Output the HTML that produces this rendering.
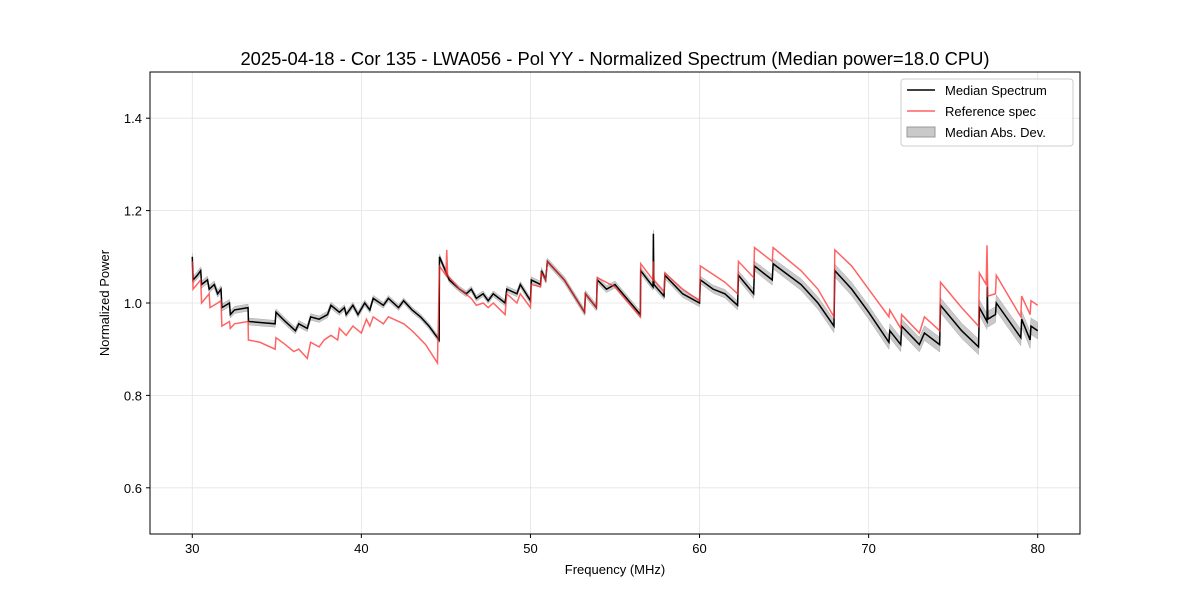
<!DOCTYPE html>
<html><head><meta charset="utf-8"><style>
body{margin:0;background:#fff}
svg{display:block;font-family:"Liberation Sans","DejaVu Sans",sans-serif}
</style></head><body>
<svg id="chart" width="1200" height="600" viewBox="0 0 1200 600">
<rect width="1200" height="600" fill="#fff"/>
<text x="615" y="65" text-anchor="middle" font-size="18.4">2025-04-18 - Cor 135 - LWA056 - Pol YY - Normalized Spectrum (Median power=18.0 CPU)</text>
<g id="grid"></g>
<g id="plot"></g>
<rect x="150" y="72" width="930" height="462" fill="none" stroke="#000" stroke-width="1"/>
<g id="axes"></g>
<text x="615" y="574" text-anchor="middle" font-size="13">Frequency (MHz)</text>
<text x="109" y="303" text-anchor="middle" font-size="13" transform="rotate(-90 109 303)">Normalized Power</text>
<g>
<rect x="901" y="79" width="172" height="67" fill="#fff" fill-opacity="0.8" stroke="#ccc" rx="3"/>
<g><line x1="907" y1="90" x2="935" y2="90" stroke="#000" stroke-width="1.5"/><text x="945" y="95" font-size="13">Median Spectrum</text></g>
<g><line x1="907" y1="111" x2="935" y2="111" stroke="#ff6060" stroke-width="1.5"/><text x="945" y="116" font-size="13">Reference spec</text></g>
<g><rect x="907" y="127" width="28" height="10" fill="#bbb" fill-opacity="0.8" stroke="#999"/><text x="945" y="137" font-size="13">Median Abs. Dev.</text></g>
</g>
</svg>
<script>
const xTicks=[30,40,50,60,70,80];
const yTicks=[0.6,0.8,1.0,1.2,1.4];
const yTickLabels=["0.6","0.8","1.0","1.2","1.4"];
const medFreq=[30,30.05,30.3,30.5,30.55,30.9,31,31.3,31.5,31.7,31.75,32.2,32.25,32.5,33.3,33.32,34.9,34.95,35.5,36.1,36.3,36.8,37.0,37.5,38.0,38.2,38.7,39.0,39.1,39.5,39.8,40.2,40.5,40.7,41.3,41.6,42.2,42.5,43.0,43.5,44.0,44.6,44.62,45.2,45.8,46.2,46.5,46.8,47.2,47.5,47.8,48.5,48.6,49.2,49.4,50.0,50.05,50.6,50.65,50.9,51.0,52.0,53.2,53.25,53.9,53.95,54.5,55.0,56.5,56.52,57.25,57.27,57.3,57.9,57.95,59.0,60.0,60.05,60.8,61.5,62.25,62.3,63.2,63.25,64.3,64.35,66.0,67.0,67.95,68.0,69.0,70.0,71.2,71.25,71.9,71.95,73.0,73.3,74.2,74.25,75.5,76.5,76.55,77.0,77.02,77.05,77.5,77.55,79.0,79.05,79.55,79.6,80.0];
const medVal=[1.10,1.05,1.06,1.07,1.04,1.05,1.03,1.04,1.02,1.03,0.99,1.0,0.975,0.985,0.99,0.96,0.955,0.98,0.96,0.94,0.955,0.945,0.97,0.965,0.975,0.995,0.98,0.99,0.975,0.995,0.975,1.0,0.985,1.01,0.995,1.01,0.99,1.005,0.985,0.97,0.95,0.92,1.10,1.05,1.03,1.02,1.03,1.01,1.02,1.005,1.02,1.0,1.03,1.02,1.04,1.005,1.05,1.04,1.07,1.05,1.09,1.05,0.98,1.02,0.99,1.05,1.03,1.04,0.975,1.07,1.035,1.15,1.04,1.015,1.06,1.02,1.0,1.05,1.03,1.02,0.995,1.06,1.02,1.08,1.05,1.085,1.04,1.0,0.95,1.07,1.03,0.98,0.915,0.94,0.91,0.95,0.91,0.935,0.91,0.995,0.94,0.905,0.99,0.96,1.035,0.965,0.975,1.0,0.925,0.965,0.92,0.95,0.94];
const refFreq=[30,30.05,30.5,30.55,31,31.05,31.5,31.7,31.75,32.2,32.25,32.5,33.3,33.32,34.0,34.9,34.95,35.5,36.0,36.3,36.8,37.0,37.5,37.8,38.2,38.6,38.7,39.1,39.5,40.0,40.3,40.5,40.7,41.3,41.6,42.5,43.0,43.8,44.5,44.62,45.0,45.05,45.1,45.8,46.5,46.8,47.2,47.5,47.8,48.5,48.6,49.2,49.4,50.0,50.05,50.6,50.65,50.9,51.0,52.0,53.2,53.25,53.9,53.95,55.0,56.5,56.52,57.25,57.27,57.3,57.9,57.95,59.0,60.0,60.05,61.5,62.25,62.3,63.2,63.25,64.3,64.35,66.0,67.0,67.95,68.0,69.0,70.0,71.2,71.25,71.9,71.95,73.0,73.3,74.2,74.25,75.5,76.5,76.55,76.95,77.0,77.05,77.5,77.55,79.0,79.05,79.55,79.6,80.0];
const refVal=[1.09,1.03,1.05,1.0,1.02,0.99,1.0,1.005,0.95,0.96,0.945,0.955,0.96,0.92,0.915,0.9,0.925,0.91,0.895,0.9,0.88,0.915,0.905,0.92,0.93,0.92,0.945,0.93,0.95,0.935,0.965,0.95,0.97,0.955,0.97,0.955,0.94,0.91,0.87,1.08,1.06,1.115,1.06,1.03,1.01,0.995,1.0,0.99,1.0,0.975,1.02,1.0,1.02,0.99,1.04,1.035,1.065,1.05,1.09,1.05,0.98,1.02,0.99,1.055,1.035,0.97,1.085,1.05,1.09,1.05,1.025,1.065,1.03,1.005,1.08,1.045,1.02,1.09,1.055,1.12,1.09,1.12,1.07,1.03,0.97,1.115,1.08,1.03,0.97,0.985,0.945,0.975,0.935,0.97,0.94,1.045,0.99,0.95,1.065,1.04,1.125,1.015,1.02,1.06,0.97,1.015,0.975,1.005,0.995];
const madFreq=[30,44,45,60,68,80];
const madVal=[0.008,0.006,0.006,0.008,0.014,0.018];

const NS="http://www.w3.org/2000/svg";
const X0=150,X1=1080,Y0=534,Y1=72,xmin=27.5,xmax=82.5,ymin=0.5,ymax=1.5;
const xs=f=>X0+(f-xmin)/(xmax-xmin)*(X1-X0);
const ys=v=>Y0-(v-ymin)/(ymax-ymin)*(Y0-Y1);
function mk(tag,attrs,parent){const e=document.createElementNS(NS,tag);for(const k in attrs)e.setAttribute(k,attrs[k]);parent.appendChild(e);return e;}
const grid=document.getElementById('grid'),plot=document.getElementById('plot'),axes=document.getElementById('axes');
xTicks.forEach(t=>{
 const gl=mk('line',{x1:xs(t),x2:xs(t),y1:Y1,y2:Y0,stroke:'#e3e3e3','stroke-width':0.8},grid);
 
 
 mk('line',{x1:xs(t),x2:xs(t),y1:Y0,y2:Y0+4,stroke:'#000'},axes);
 const tx=mk('text',{x:xs(t),y:Y0+19,'text-anchor':'middle','font-size':13},axes);
 tx.textContent=String(t);
 
 
});
yTicks.forEach((t,i)=>{
 const gl=mk('line',{x1:X0,x2:X1,y1:ys(t),y2:ys(t),stroke:'#e3e3e3','stroke-width':0.8},grid);
 
 
 mk('line',{x1:X0-4,x2:X0,y1:ys(t),y2:ys(t),stroke:'#000'},axes);
 const tx=mk('text',{x:X0-8,y:ys(t)+5,'text-anchor':'end','font-size':13},axes);
 tx.textContent=yTickLabels[i];
 
 
});
function madAt(f){for(let i=1;i<madFreq.length;i++){if(f<=madFreq[i]){const r=(f-madFreq[i-1])/(madFreq[i]-madFreq[i-1]);return madVal[i-1]+r*(madVal[i]-madVal[i-1]);}}return madVal[madVal.length-1];}
let up=[],dn=[];
medFreq.forEach((f,i)=>{const m=madAt(f);up.push(xs(f)+','+ys(medVal[i]+m));dn.unshift(xs(f)+','+ys(medVal[i]-m));});
const band=mk('polygon',{points:up.concat(dn).join(' '),fill:'#bbb','fill-opacity':0.8,stroke:'#aaa','stroke-width':0.5},plot);


const med=mk('polyline',{points:medFreq.map((f,i)=>xs(f)+','+ys(medVal[i])).join(' '),fill:'none',stroke:'#000','stroke-width':1.5},plot);


const ref=mk('polyline',{points:refFreq.map((f,i)=>xs(f)+','+ys(refVal[i])).join(' '),fill:'none',stroke:'#ff3030','stroke-opacity':0.75,'stroke-width':1.5},plot);


</script>
</body></html>
